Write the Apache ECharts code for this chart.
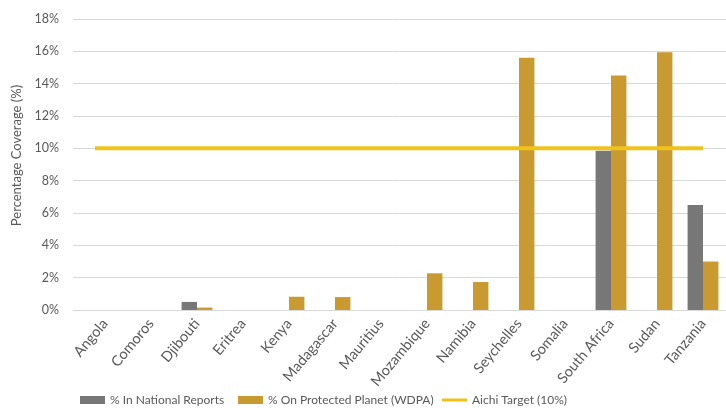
<!DOCTYPE html>
<html>
<head>
<meta charset="utf-8">
<script src="https://cdn.jsdelivr.net/npm/echarts@6/dist/echarts.min.js"></script>
<style>html,body{margin:0;padding:0;background:#fff}#c{width:726px;height:408px}</style>
</head>
<body>
<div id="c"></div>
<script>
const categories = ['Angola','Comoros','Djibouti','Eritrea','Kenya','Madagascar','Mauritius','Mozambique','Namibia','Seychelles','Somalia','South Africa','Sudan','Tanzania'];
const nationalReports = [0, 0, 0.5, 0, 0, 0, 0, 0, 0, 0, 0, 9.85, 0, 6.5];
const protectedPlanet = [0, 0, 0.15, 0, 0.82, 0.8, 0, 2.27, 1.73, 15.6, 0, 14.5, 15.95, 3.0];
const aichiTarget = [10, 10, 10, 10, 10, 10, 10, 10, 10, 10, 10, 10, 10, 10];
const yTicks = [0, 2, 4, 6, 8, 10, 12, 14, 16, 18];
const seriesNames = ['% In National Reports', '% On Protected Planet (WDPA)', 'Aichi Target (10%)'];

const FONT = 'Lato';
const TXT = '#595959';
const chart = echarts.init(document.getElementById('c'), null, {renderer: 'canvas'});
const yBase = {type: 'value', min: yTicks[0], max: yTicks[yTicks.length - 1], interval: yTicks[1] - yTicks[0]};
const legendBase = {top: 389, itemWidth: 25, itemHeight: 8, itemGap: 26,
  textStyle: {color: TXT, fontSize: 12, fontFamily: FONT}};
chart.setOption({
  animation: false,
  textStyle: {fontFamily: FONT},
  grid: [
    {left: 82, right: -7, top: 19, bottom: 98},
    {left: 95, right: 23, top: 19, bottom: 98},
    {left: 73, right: 0, top: 19, bottom: 98}
  ],
  legend: [
    Object.assign({left: 75, data: [{name: seriesNames[0], icon: 'rect'}]}, legendBase),
    Object.assign({left: 233, data: [{name: seriesNames[1], icon: 'rect'}]}, legendBase),
    Object.assign({left: 437, data: [{name: seriesNames[2], icon: 'path://M0,0 L25,0 L25,3 L0,3 Z'}]}, legendBase)
  ],
  xAxis: [
    {gridIndex: 0, type: 'category', data: categories,
      axisLine: {show: false}, axisTick: {show: false},
      axisLabel: {rotate: 50, color: TXT, fontSize: 14.5, fontFamily: FONT, margin: 11, interval: 0}},
    {gridIndex: 1, type: 'category', data: categories, boundaryGap: false, show: false},
    {gridIndex: 2, type: 'category', data: categories,
      axisLine: {show: true, lineStyle: {color: '#d9d9d9', width: 1}},
      axisTick: {show: false}, axisLabel: {show: false}}
  ],
  yAxis: [
    Object.assign({gridIndex: 0, show: false}, yBase),
    Object.assign({gridIndex: 1, show: false}, yBase),
    Object.assign({gridIndex: 2,
      name: 'Percentage Coverage (%)', nameLocation: 'middle', nameGap: 46,
      nameTextStyle: {color: TXT, fontSize: 13, fontFamily: FONT, padding: [0, 0, 0, 18]},
      axisLine: {show: false}, axisTick: {show: false},
      axisLabel: {formatter: '{value}%', color: TXT, fontSize: 12.5, fontFamily: FONT, margin: 14},
      splitLine: {show: true, lineStyle: {color: '#d9d9d9', width: 1}}}, yBase)
  ],
  series: [
    {name: seriesNames[0], type: 'bar', xAxisIndex: 0, yAxisIndex: 0,
      data: nationalReports, itemStyle: {color: '#777777'}, barGap: '0%', barCategoryGap: '33%'},
    {name: seriesNames[1], type: 'bar', xAxisIndex: 0, yAxisIndex: 0,
      data: protectedPlanet, itemStyle: {color: '#C99A30'}, barGap: '0%', barCategoryGap: '33%'},
    {name: seriesNames[2], type: 'line', xAxisIndex: 1, yAxisIndex: 1,
      data: aichiTarget, symbol: 'none', lineStyle: {color: '#F0C21C', width: 4}, itemStyle: {color: '#F0C21C'}, z: 5}
  ]
});
</script>
</body>
</html>
